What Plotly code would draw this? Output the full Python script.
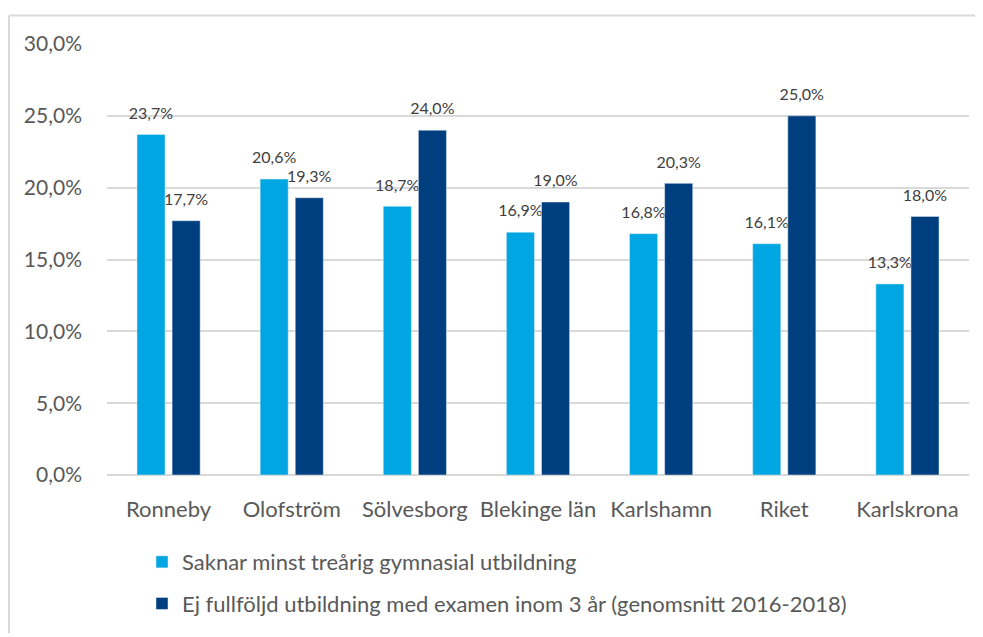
import plotly.graph_objects as go

categories = ["Ronneby", "Olofström", "Sölvesborg", "Blekinge län", "Karlshamn", "Riket", "Karlskrona"]
saknar = [23.7, 20.6, 18.7, 16.9, 16.8, 16.1, 13.3]
ej_fullfoljd = [17.7, 19.3, 24.0, 19.0, 20.3, 25.0, 18.0]
name1 = "Saknar minst treårig gymnasial utbildning"
name2 = "Ej fullföljd utbildning med examen inom 3 år (genomsnitt 2016-2018)"
yticks = [0, 5, 10, 15, 20, 25, 30]
yticktext = [f"{v:.1f}%".replace(".", ",") for v in yticks]

FONT = "Lato"
W, H = 975, 629
ml, mr, mt, mb = 99, 14, 36, 156

label_tpl = "<span style='font-size:16px'>%{y:.1f}%</span><br><span style='font-size:3px'> </span>"

fig = go.Figure()
fig.add_trace(go.Bar(x=categories, y=saknar, name=name1, marker_color="#00a6e2",
                     texttemplate=label_tpl, textposition="outside", cliponaxis=False,
                     constraintext="none",
                     textfont=dict(family=FONT, size=9, color="#404040"), legendgroup="a"))
fig.add_trace(go.Bar(x=categories, y=ej_fullfoljd, name=name2, marker_color="#003f7f",
                     texttemplate=label_tpl, textposition="outside", cliponaxis=False,
                     constraintext="none",
                     textfont=dict(family=FONT, size=9, color="#404040"), legendgroup="b"))

pw = W - ml - mr
ph = H - mt - mb
top_y = (H - 7 - mb) / ph
left_x = (1 - ml) / pw
fig.add_shape(type="line", xref="paper", yref="paper",
              x0=left_x, x1=(W - ml) / pw, y0=top_y, y1=top_y,
              line=dict(color="#d9d9d9", width=2))
fig.add_shape(type="line", xref="paper", yref="paper",
              x0=left_x, x1=left_x, y0=top_y, y1=-mb / ph - 0.01,
              line=dict(color="#d9d9d9", width=2))

fig.update_layout(
    width=W, height=H,
    margin=dict(l=ml, r=mr, t=mt, b=mb),
    paper_bgcolor="white", plot_bgcolor="white",
    separators=", ",
    barmode="group", bargap=0.43, bargroupgap=0.2,
    font=dict(family=FONT, color="#595959"),
    showlegend=True,
    legend=dict(orientation="v", x=(134 - ml) / pw, xanchor="left", y=(H - 540 - mb) / ph, yanchor="top",
                font=dict(family=FONT, size=22, color="#595959"), tracegroupgap=10,
                itemwidth=30),
    xaxis=dict(showgrid=False, showline=False, ticks="", ticklabelstandoff=19,
               tickfont=dict(family=FONT, size=22, color="#595959")),
    yaxis=dict(range=[0, 30], tickvals=yticks, ticktext=yticktext,
               showgrid=True, gridcolor="#d9d9d9", gridwidth=1.5, zeroline=True, zerolinecolor="#d9d9d9",
               zerolinewidth=2, showline=False, ticks="", ticklabelstandoff=24,
               tickfont=dict(family=FONT, size=21, color="#595959")),
)
fig.write_html("out.html")
